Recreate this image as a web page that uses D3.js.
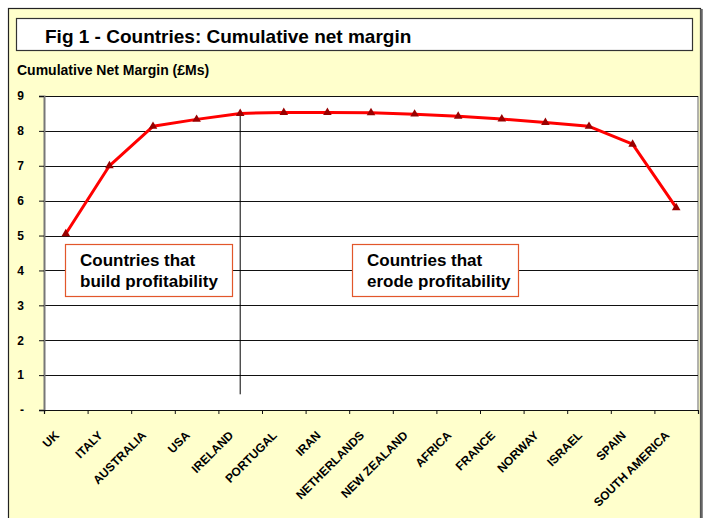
<!DOCTYPE html>
<html>
<head>
<meta charset="utf-8">
<script src="https://cdn.jsdelivr.net/npm/d3@7"></script>
<style>
  html, body { margin: 0; padding: 0; background: #ffffff; }
  svg { display: block; font-family: Arial, "Liberation Sans", sans-serif; }
</style>
</head>
<body>
<svg id="chart" width="707" height="518"></svg>
<script>
// Countries in the order they are accumulated
const countries = ["UK", "ITALY", "AUSTRALIA", "USA", "IRELAND", "PORTUGAL", "IRAN",
  "NETHERLANDS", "NEW ZEALAND", "AFRICA", "FRANCE", "NORWAY", "ISRAEL", "SPAIN", "SOUTH AMERICA"];

// Cumulative net margin, £Ms
const cumulativeMargin = [5.05, 7.0, 8.13, 8.33, 8.5, 8.53, 8.53, 8.52, 8.48, 8.42, 8.34, 8.24, 8.13, 7.62, 5.8];

// Y axis ticks (0 is shown as a dash)
const yTicks = [0, 1, 2, 3, 4, 5, 6, 7, 8, 9];

// Divider between "build" and "erode" groups
const dividerCountry = "IRELAND";
const dividerSpan = [0.45, 8.5];

const titleText = "Fig 1 - Countries: Cumulative net margin";
const yTitleText = "Cumulative Net Margin (£Ms)";
const notes = [
  { lines: ["Countries that", "build profitability"] },
  { lines: ["Countries that", "erode profitability"] }
];

const svg = d3.select("#chart");

// Outer panel
svg.append("rect").attr("x", 0).attr("y", 0).attr("width", 707).attr("height", 518).attr("fill", "#ffffff");
svg.append("rect").attr("x", 8.5).attr("y", 8.5).attr("width", 692).attr("height", 520)
  .attr("fill", "#ffffcc").attr("stroke", "#222").attr("stroke-width", 1.2);
svg.append("line").attr("x1", 701.5).attr("x2", 701.5).attr("y1", 9).attr("y2", 518)
  .attr("stroke", "#666").attr("stroke-width", 2.5);

// Title box
svg.append("rect").attr("x", 16.5).attr("y", 18.5).attr("width", 676).attr("height", 32)
  .attr("fill", "#ffffff").attr("stroke", "#333").attr("stroke-width", 1.2);
svg.append("text").attr("x", 45).attr("y", 43)
  .attr("font-size", 19).attr("font-weight", "bold").attr("fill", "#000")
  .text(titleText);

svg.append("text").attr("x", 17).attr("y", 75)
  .attr("font-size", 14).attr("font-weight", "bold").attr("fill", "#000")
  .text(yTitleText);

// Plot geometry
const plot = { left: 44, right: 698, top: 96, bottom: 410 };

const x = d3.scaleBand().domain(countries).range([plot.left, plot.right]).padding(0);
const xEdges = d3.scaleLinear().domain([0, countries.length]).range([plot.left, plot.right]);
const y = d3.scaleLinear().domain([0, 9]).range([plot.bottom, plot.top]);
const cx = c => x(c) + x.bandwidth() / 2;

// Plot area
svg.append("rect").attr("x", plot.left).attr("y", plot.top)
  .attr("width", plot.right - plot.left).attr("height", plot.bottom - plot.top)
  .attr("fill", "#ffffff");
svg.append("line").attr("x1", plot.right).attr("x2", plot.right)
  .attr("y1", plot.top).attr("y2", plot.bottom).attr("stroke", "#999").attr("stroke-width", 1.5);

// Horizontal gridlines
svg.append("g").selectAll("line").data(yTicks.filter(d => d > 0)).join("line")
  .attr("x1", plot.left).attr("x2", plot.right)
  .attr("y1", d => Math.round(y(d)) + 0.5).attr("y2", d => Math.round(y(d)) + 0.5)
  .attr("stroke", "#111").attr("stroke-width", 1);

// Y axis
const yAxis = svg.append("g").attr("transform", `translate(${plot.left},0)`)
  .call(d3.axisLeft(y).tickValues(yTicks).tickSize(5).tickPadding(15)
    .tickFormat(d => d === 0 ? "-" : d));
yAxis.select(".domain").attr("stroke", "#777").attr("stroke-width", 2);
yAxis.selectAll(".tick line").attr("stroke", "#111");
yAxis.selectAll(".tick text").attr("font-size", 12).attr("font-weight", "bold")
  .attr("font-family", "Arial, 'Liberation Sans', sans-serif").attr("fill", "#000");

// X axis: ticks on category boundaries
const xAxis = svg.append("g").attr("transform", `translate(0,${plot.bottom})`)
  .call(d3.axisBottom(xEdges).tickValues(d3.range(0, countries.length + 1))
    .tickSize(4).tickFormat(""));
xAxis.select(".domain").attr("stroke", "#111").attr("stroke-width", 1.2);
xAxis.selectAll(".tick line").attr("stroke", "#111");

// Rotated category labels
svg.append("g").selectAll("text").data(countries).join("text")
  .attr("transform", d => `translate(${cx(d) - 6},436) rotate(-45)`)
  .attr("text-anchor", "end")
  .attr("font-size", 12).attr("font-weight", "bold").attr("fill", "#000")
  .text(d => d);

// Divider line
svg.append("line")
  .attr("x1", cx(dividerCountry)).attr("x2", cx(dividerCountry))
  .attr("y1", y(dividerSpan[1])).attr("y2", y(dividerSpan[0]))
  .attr("stroke", "#000").attr("stroke-width", 1);

// Annotation boxes
const noteBoxes = [
  { x: 65, y: 244, w: 167, h: 52 },
  { x: 352, y: 244, w: 166, h: 52 }
];
notes.forEach((n, i) => {
  const b = noteBoxes[i];
  const g = svg.append("g");
  g.append("rect").attr("x", b.x + 0.5).attr("y", b.y + 0.5).attr("width", b.w).attr("height", b.h)
    .attr("fill", "#ffffff").attr("stroke", "#e2572b").attr("stroke-width", 1.2);
  n.lines.forEach((t, j) => {
    g.append("text").attr("x", b.x + 15).attr("y", b.y + 22 + j * 21)
      .attr("font-size", 17).attr("font-weight", "bold").attr("fill", "#000")
      .text(t);
  });
});

// Series line and markers
const series = countries.map((c, i) => ({ c, v: cumulativeMargin[i] }));
svg.append("path").datum(series)
  .attr("fill", "none").attr("stroke", "#ff0000").attr("stroke-width", 3)
  .attr("stroke-linejoin", "round")
  .attr("d", d3.line().x(d => cx(d.c)).y(d => y(d.v)));

svg.append("g").selectAll("path").data(series).join("path")
  .attr("transform", d => `translate(${cx(d.c)},${y(d.v)})`)
  .attr("d", d3.symbol(d3.symbolTriangle).size(32))
  .attr("fill", "#990000");
</script>
</body>
</html>
